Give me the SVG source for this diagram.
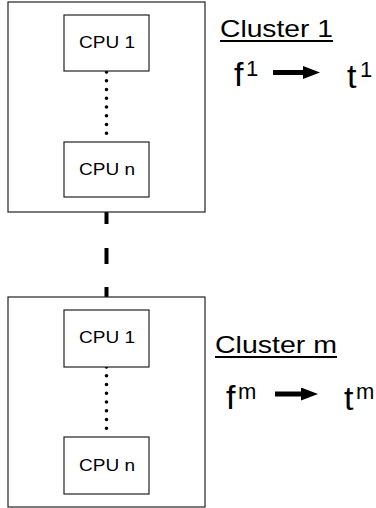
<svg xmlns="http://www.w3.org/2000/svg" width="376" height="508" viewBox="0 0 376 508">
  <style>
    .box { fill: #fff; stroke: #222; stroke-width: 1.2; }
    .cpu { font-family: "Liberation Sans", Arial, sans-serif; font-size: 17px; fill: #000; }
    .title { font-family: "Liberation Sans", Arial, sans-serif; font-size: 24px; fill: #000; }
    .sym { font-family: "Liberation Sans", Arial, sans-serif; font-size: 34px; fill: #000; }
    .sup { font-family: "Liberation Sans", Arial, sans-serif; font-size: 22px; fill: #000; }
    .dots { stroke: #000; stroke-width: 3.6; stroke-linecap: round; stroke-dasharray: 0 8.75; fill: none; }
    .dash { stroke: #000; stroke-width: 4; fill: none; }
    .uline { stroke: #000; stroke-width: 2; }
    .arrow { stroke: #000; stroke-width: 5; }
  </style>
  <defs>
    <marker id="head" viewBox="0 0 17 13" refX="0" refY="6.5" markerWidth="3.4" markerHeight="2.6" orient="auto" markerUnits="strokeWidth" preserveAspectRatio="none">
      <path d="M0,0 L17,6.5 L0,13 z" fill="#000"/>
    </marker>
  </defs>

  <!-- connectors: dashed link between clusters -->
  <g id="connectors">
    <line class="dash" x1="106.5" y1="212" x2="106.5" y2="224"/>
    <line class="dash" x1="106.5" y1="248" x2="106.5" y2="264"/>
    <line class="dash" x1="106.5" y1="287" x2="106.5" y2="297"/>
  </g>

  <!-- cluster 1 -->
  <g id="cluster1">
    <rect class="box" x="8" y="2" width="197" height="210"/>
    <line class="dots" x1="106.5" y1="72" x2="106.5" y2="142"/>
    <g id="c1-cpu1">
      <rect class="box" x="64" y="15" width="85" height="56"/>
      <text class="cpu" x="107" y="48" text-anchor="middle" textLength="56" lengthAdjust="spacingAndGlyphs">CPU 1</text>
    </g>
    <g id="c1-cpun">
      <rect class="box" x="64" y="142" width="85" height="55"/>
      <text class="cpu" x="107" y="175" text-anchor="middle" textLength="56" lengthAdjust="spacingAndGlyphs">CPU n</text>
    </g>
  </g>
  <g id="label1">
    <text class="title" x="220" y="37" textLength="113" lengthAdjust="spacingAndGlyphs">Cluster 1</text>
    <line class="uline" x1="220" y1="41" x2="333" y2="41"/>
    <text class="sym" x="234" y="86">f</text>
    <text class="sup" x="246" y="76">1</text>
    <line class="arrow" x1="273" y1="72.5" x2="303" y2="72.5" marker-end="url(#head)"/>
    <text class="sym" x="347" y="88">t</text>
    <text class="sup" x="360" y="77">1</text>
  </g>

  <!-- cluster m -->
  <g id="clusterm">
    <rect class="box" x="8" y="297" width="197" height="210"/>
    <line class="dots" x1="106.5" y1="367" x2="106.5" y2="437"/>
    <g id="cm-cpu1">
      <rect class="box" x="64" y="310" width="85" height="57"/>
      <text class="cpu" x="107" y="343" text-anchor="middle" textLength="56" lengthAdjust="spacingAndGlyphs">CPU 1</text>
    </g>
    <g id="cm-cpun">
      <rect class="box" x="64" y="437" width="85" height="57"/>
      <text class="cpu" x="107" y="471" text-anchor="middle" textLength="56" lengthAdjust="spacingAndGlyphs">CPU n</text>
    </g>
  </g>
  <g id="labelm">
    <text class="title" x="215" y="353" textLength="122" lengthAdjust="spacingAndGlyphs">Cluster m</text>
    <line class="uline" x1="215" y1="357" x2="337" y2="357"/>
    <text class="sym" x="226" y="409">f</text>
    <text class="sup" x="238" y="399">m</text>
    <line class="arrow" x1="275" y1="394" x2="301" y2="394" marker-end="url(#head)"/>
    <text class="sym" x="344" y="410">t</text>
    <text class="sup" x="356" y="399">m</text>
  </g>
</svg>
